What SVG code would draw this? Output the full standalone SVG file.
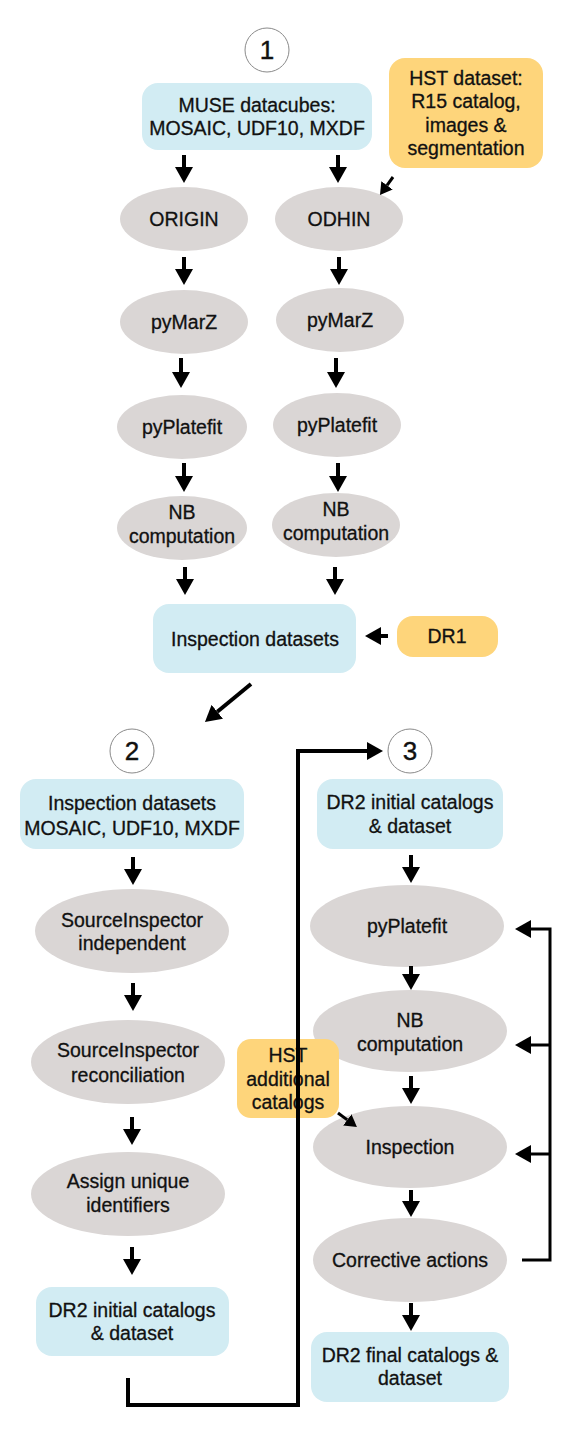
<svg xmlns="http://www.w3.org/2000/svg" width="582" height="1443" viewBox="0 0 582 1443">
<style>
text{font-family:"Liberation Sans",Arial,Helvetica,sans-serif;font-size:19.5px;fill:#111;stroke:#111;stroke-width:0.3;text-anchor:middle}
.num{font-size:26px;stroke-width:0.4}
.blue{fill:#d2ecf3}
.orange{fill:#fed57b}
.gray{fill:#dad6d5}
.step{fill:#fff;stroke:#8a8a8a;stroke-width:1}
.c{stroke:#000;stroke-width:4;fill:none}
.cs{stroke:#000;stroke-width:3;fill:none}
</style>
<defs>
<marker id="ah" markerUnits="userSpaceOnUse" markerWidth="16" markerHeight="18" viewBox="0 0 16 18" refX="0" refY="9" orient="auto">
<path d="M0,0 L16,9 L0,18 z" fill="#000"/>
</marker>
<marker id="ahs" markerUnits="userSpaceOnUse" markerWidth="12" markerHeight="14" viewBox="0 0 12 14" refX="0" refY="7" orient="auto">
<path d="M0,0 L12,7 L0,14 z" fill="#000"/>
</marker>
</defs>
<rect width="582" height="1443" fill="#fff"/>

<g id="step1"><circle class="step" cx="267" cy="50" r="22"/><text class="num" x="267" y="59">1</text></g>
<g id="step2"><circle class="step" cx="132" cy="751" r="22"/><text class="num" x="132" y="760">2</text></g>
<g id="step3"><circle class="step" cx="410" cy="751" r="22"/><text class="num" x="410" y="760">3</text></g>

<g id="muse"><rect class="blue" x="142" y="83" width="230" height="67" rx="16"/><text x="257" y="112">MUSE datacubes:</text><text x="257" y="135">MOSAIC, UDF10, MXDF</text></g>
<g id="hst"><rect class="orange" x="389" y="58" width="154" height="110" rx="16"/><text x="466" y="85">HST dataset:</text><text x="466" y="108">R15 catalog,</text><text x="466" y="132">images &amp;</text><text x="466" y="155">segmentation</text></g>

<g id="origin"><ellipse class="gray" cx="184" cy="219" rx="64" ry="32"/><text x="184" y="226">ORIGIN</text></g>
<g id="odhin"><ellipse class="gray" cx="339" cy="219" rx="64" ry="32"/><text x="339" y="226">ODHIN</text></g>
<g id="pymarz1"><ellipse class="gray" cx="184" cy="322" rx="64" ry="32"/><text x="184" y="329">pyMarZ</text></g>
<g id="pymarz2"><ellipse class="gray" cx="340" cy="320" rx="64" ry="32"/><text x="340" y="327">pyMarZ</text></g>
<g id="pyplatefit1"><ellipse class="gray" cx="182" cy="427" rx="65" ry="32"/><text x="182" y="434">pyPlatefit</text></g>
<g id="pyplatefit2"><ellipse class="gray" cx="337" cy="425" rx="64" ry="32"/><text x="337" y="432">pyPlatefit</text></g>
<g id="nb1"><ellipse class="gray" cx="182" cy="528" rx="65" ry="32"/><text x="182" y="519">NB</text><text x="182" y="543">computation</text></g>
<g id="nb2"><ellipse class="gray" cx="336" cy="525" rx="64" ry="32"/><text x="336" y="516">NB</text><text x="336" y="540">computation</text></g>

<g id="inspection1"><rect class="blue" x="153" y="604" width="203" height="69" rx="16"/><text x="255" y="646">Inspection datasets</text></g>
<g id="dr1"><rect class="orange" x="397" y="616" width="101" height="41" rx="16"/><text x="447" y="643">DR1</text></g>

<g id="inspection2"><rect class="blue" x="20" y="779" width="224" height="70" rx="16"/><text x="132" y="810">Inspection datasets</text><text x="132" y="835">MOSAIC, UDF10, MXDF</text></g>
<g id="si_indep"><ellipse class="gray" cx="132" cy="931" rx="97" ry="42"/><text x="132" y="927">SourceInspector</text><text x="132" y="950">independent</text></g>
<g id="si_recon"><ellipse class="gray" cx="128" cy="1062" rx="97" ry="42"/><text x="128" y="1057">SourceInspector</text><text x="128" y="1082">reconciliation</text></g>
<g id="assign"><ellipse class="gray" cx="128" cy="1194" rx="97" ry="42"/><text x="128" y="1188">Assign unique</text><text x="128" y="1212">identifiers</text></g>
<g id="dr2init1"><rect class="blue" x="36" y="1287" width="193" height="69" rx="16"/><text x="132" y="1317">DR2 initial catalogs</text><text x="132" y="1340">&amp; dataset</text></g>

<g id="dr2init2"><rect class="blue" x="317" y="779" width="186" height="70" rx="16"/><text x="410" y="809">DR2 initial catalogs</text><text x="410" y="833">&amp; dataset</text></g>
<g id="pyplatefit3"><ellipse class="gray" cx="407" cy="926" rx="97" ry="41"/><text x="407" y="933">pyPlatefit</text></g>
<g id="nb3"><ellipse class="gray" cx="410" cy="1031" rx="97" ry="41"/><text x="410" y="1027">NB</text><text x="410" y="1051">computation</text></g>
<g id="inspection3"><ellipse class="gray" cx="410" cy="1147" rx="97" ry="41"/><text x="410" y="1154">Inspection</text></g>
<g id="corrective"><ellipse class="gray" cx="410" cy="1260" rx="97" ry="42"/><text x="410" y="1267">Corrective actions</text></g>
<g id="dr2final"><rect class="blue" x="311" y="1332" width="198" height="70" rx="16"/><text x="410" y="1362">DR2 final catalogs &amp;</text><text x="410" y="1385">dataset</text></g>
<g id="hstadd"><rect class="orange" x="237" y="1039" width="102" height="79" rx="14"/><text x="288" y="1062">HST</text><text x="288" y="1086">additional</text><text x="288" y="1109">catalogs</text></g>

<g id="connectors">
<line class="c" x1="184" y1="155" x2="184" y2="167" marker-end="url(#ah)"/>
<line class="c" x1="338" y1="155" x2="338" y2="167" marker-end="url(#ah)"/>
<line class="cs" x1="393" y1="177" x2="387" y2="185.3" marker-end="url(#ahs)"/>
<line class="c" x1="184" y1="257" x2="184" y2="269" marker-end="url(#ah)"/>
<line class="c" x1="339" y1="257" x2="339" y2="269" marker-end="url(#ah)"/>
<line class="c" x1="181" y1="358" x2="181" y2="372" marker-end="url(#ah)"/>
<line class="c" x1="336" y1="358" x2="336" y2="372" marker-end="url(#ah)"/>
<line class="c" x1="184" y1="463" x2="184" y2="476" marker-end="url(#ah)"/>
<line class="c" x1="338" y1="463" x2="338" y2="476" marker-end="url(#ah)"/>
<line class="c" x1="185" y1="567" x2="185" y2="579" marker-end="url(#ah)"/>
<line class="c" x1="335" y1="567" x2="335" y2="579" marker-end="url(#ah)"/>
<line class="c" x1="388" y1="636" x2="381" y2="636" marker-end="url(#ah)"/>
<line class="c" x1="251" y1="684" x2="217.3" y2="711.8" marker-end="url(#ah)"/>

<path class="c" d="M128,1378 V1405 H298 V751 H367" marker-end="url(#ah)"/>

<line class="c" x1="133" y1="857" x2="133" y2="869" marker-end="url(#ah)"/>
<line class="c" x1="133" y1="983" x2="133" y2="995" marker-end="url(#ah)"/>
<line class="c" x1="132" y1="1117" x2="132" y2="1129" marker-end="url(#ah)"/>
<line class="c" x1="132" y1="1247" x2="132" y2="1259" marker-end="url(#ah)"/>

<line class="c" x1="411" y1="855" x2="411" y2="867" marker-end="url(#ah)"/>
<line class="c" x1="411" y1="966" x2="411" y2="974" marker-end="url(#ah)"/>
<line class="c" x1="411" y1="1076" x2="411" y2="1088" marker-end="url(#ah)"/>
<line class="c" x1="411" y1="1190" x2="411" y2="1201" marker-end="url(#ah)"/>
<line class="c" x1="411" y1="1303" x2="411" y2="1315" marker-end="url(#ah)"/>
<line class="cs" x1="338" y1="1113" x2="347.3" y2="1119.9" marker-end="url(#ahs)"/>

<path class="cs" d="M522,1260 H550 V929 H531" marker-end="url(#ah)"/>
<line class="cs" x1="550" y1="1045" x2="531" y2="1045" marker-end="url(#ah)"/>
<line class="cs" x1="550" y1="1154" x2="531" y2="1154" marker-end="url(#ah)"/>
</g>
</svg>
